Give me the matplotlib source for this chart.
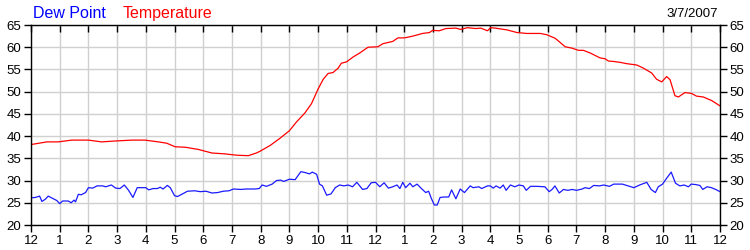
import matplotlib
matplotlib.use("Agg")
import matplotlib.pyplot as plt

plt.rcParams['font.family'] = ['Liberation Sans', 'DejaVu Sans']

# ---- data (hours since midnight) ----
temp_hours = [0.0, 0.55, 0.95, 1.42, 2.0, 2.46, 2.93, 3.51, 3.97, 4.44,
              4.73, 5.02, 5.37, 5.83, 6.30, 6.76, 7.17, 7.57, 7.85, 7.98,
              8.33, 8.67, 9.0, 9.25, 9.54, 9.77, 10.0, 10.18, 10.35, 10.52,
              10.7, 10.81, 10.99, 11.22, 11.45, 11.74, 12.08, 12.26, 12.6, 12.78,
              13.01, 13.3, 13.47, 13.64, 13.88, 13.99, 14.22, 14.45, 14.8, 14.97,
              15.2, 15.49, 15.67, 15.9, 16.01, 16.17, 16.58, 16.93, 17.27, 17.74,
              17.97, 18.26, 18.61, 18.84, 19.07, 19.24, 19.48, 19.82, 20.0, 20.11,
              20.29, 20.52, 20.75, 21.1, 21.33, 21.62, 21.79, 21.97, 22.14, 22.26,
              22.43, 22.55, 22.78, 23.01, 23.18, 23.42, 23.71, 24.0]
temps = [38.1, 38.7, 38.7, 39.1, 39.1, 38.7, 38.9, 39.1, 39.1, 38.7,
         38.4, 37.6, 37.5, 37.0, 36.2, 36.0, 35.7, 35.6, 36.2, 36.6,
         37.9, 39.5, 41.2, 43.2, 45.2, 47.3, 50.6, 52.8, 54.1, 54.3,
         55.3, 56.4, 56.7, 57.8, 58.7, 60.0, 60.1, 60.8, 61.3, 62.1,
         62.1, 62.5, 62.8, 63.1, 63.3, 63.8, 63.7, 64.2, 64.3, 64.0,
         64.4, 64.2, 64.3, 63.7, 64.4, 64.3, 63.9, 63.3, 63.1, 63.1,
         62.8, 62.0, 60.1, 59.8, 59.3, 59.3, 58.7, 57.6, 57.4, 56.9,
         56.8, 56.6, 56.3, 56.0, 55.3, 54.2, 52.8, 52.2, 53.4, 52.7,
         49.1, 48.8, 49.8, 49.6, 49.0, 48.8, 48.0, 46.8]

dew_hours = [0.0, 0.15, 0.3, 0.38, 0.5, 0.6, 0.75, 0.9, 1.0, 1.1,
             1.3, 1.4, 1.5, 1.55, 1.65, 1.75, 1.9, 2.0, 2.15, 2.3,
             2.5, 2.6, 2.8, 2.95, 3.1, 3.25, 3.4, 3.55, 3.7, 4.0,
             4.1, 4.25, 4.4, 4.5, 4.6, 4.75, 4.85, 5.0, 5.1, 5.25,
             5.45, 5.7, 5.9, 6.1, 6.3, 6.5, 6.7, 6.9, 7.05, 7.3,
             7.5, 7.8, 7.95, 8.05, 8.2, 8.4, 8.55, 8.7, 8.8, 9.0,
             9.2, 9.4, 9.55, 9.7, 9.8, 9.95, 10.05, 10.15, 10.3, 10.45,
             10.6, 10.75, 10.9, 11.05, 11.2, 11.35, 11.55, 11.7, 11.85, 12.0,
             12.15, 12.3, 12.45, 12.6, 12.75, 12.85, 12.95, 13.05, 13.2, 13.3,
             13.45, 13.6, 13.75, 13.85, 13.95, 14.05, 14.15, 14.25, 14.4, 14.55,
             14.65, 14.8, 14.95, 15.1, 15.3, 15.4, 15.6, 15.7, 15.9, 16.0,
             16.1, 16.2, 16.34, 16.45, 16.55, 16.7, 16.85, 17.0, 17.15, 17.25,
             17.4, 17.6, 17.9, 18.05, 18.15, 18.25, 18.4, 18.55, 18.7, 18.85,
             19.0, 19.2, 19.3, 19.45, 19.6, 19.8, 19.95, 20.15, 20.3, 20.6,
             20.8, 21.0, 21.2, 21.45, 21.6, 21.75, 21.85, 22.0, 22.15, 22.3,
             22.45, 22.6, 22.75, 22.9, 23.0, 23.15, 23.3, 23.4, 23.55, 23.7,
             23.85, 24.0]
dew = [26.1, 26.2, 26.5, 25.3, 25.8, 26.5, 26.0, 25.5, 24.8, 25.4,
       25.4, 25.0, 25.6, 25.2, 26.9, 26.8, 27.3, 28.4, 28.3, 28.8,
       28.8, 28.6, 29.0, 28.3, 28.2, 29.0, 27.8, 26.2, 28.4, 28.4,
       27.9, 28.2, 28.2, 28.5, 28.1, 28.9, 28.4, 26.6, 26.4, 26.9,
       27.6, 27.7, 27.5, 27.6, 27.2, 27.3, 27.6, 27.7, 28.1, 28.0,
       28.1, 28.1, 28.2, 29.0, 28.7, 29.2, 30.0, 30.1, 29.8, 30.3,
       30.2, 32.0, 31.8, 31.5, 31.9, 31.4, 29.2, 28.8, 26.7, 27.0,
       28.4, 29.0, 28.8, 29.0, 28.6, 29.6, 28.0, 28.2, 29.5, 29.6,
       28.6, 29.5, 28.3, 28.6, 29.0, 28.2, 29.6, 28.4, 29.4, 28.6,
       29.2, 28.2, 27.3, 27.6, 25.9, 24.5, 24.5, 26.2, 26.3, 26.3,
       27.9, 25.9, 28.1, 27.3, 28.8, 28.4, 28.6, 28.2, 28.8, 28.8,
       28.3, 28.8, 28.3, 29.0, 27.8, 29.0, 28.6, 29.0, 28.8, 27.8,
       28.7, 28.7, 28.6, 27.5, 28.0, 28.8, 27.2, 28.0, 27.8, 28.0,
       27.8, 28.1, 28.4, 28.2, 28.9, 28.8, 29.0, 28.7, 29.2, 29.2,
       28.8, 28.4, 29.0, 29.6, 28.0, 27.3, 28.6, 29.2, 30.6, 31.9,
       29.4, 28.8, 29.0, 28.6, 29.2, 29.1, 28.9, 28.0, 28.6, 28.4,
       28.0, 27.5]

x_tick_labels = ['12', '1', '2', '3', '4', '5', '6', '7', '8', '9', '10', '11',
                 '12', '1', '2', '3', '4', '5', '6', '7', '8', '9', '10', '11', '12']
y_ticks = [20, 25, 30, 35, 40, 45, 50, 55, 60, 65]
date_label = '3/7/2007'

# ---- figure ----
fig = plt.figure(figsize=(7.5, 2.5), dpi=100)
ax = fig.add_axes([31 / 750, 25 / 250, 689 / 750, 200 / 250])

ax.plot(dew_hours, dew, color='#1a1aff', linewidth=0.9)
ax.plot(temp_hours, temps, color='#ff0000', linewidth=0.9)

ax.set_xlim(0, 24)
ax.set_ylim(20, 65)
ax.set_xticks(range(25))
ax.set_xticklabels(x_tick_labels)
ax.set_yticks(y_ticks)
ax.grid(True, color='#d0d0d0', linewidth=1.0)
ax.set_axisbelow(True)

for s in ax.spines.values():
    s.set_color('black')
    s.set_linewidth(1.0)

ax.tick_params(axis='x', which='both', direction='out', length=5, width=1,
               labelsize=9.5, pad=2, top=True, labeltop=False)
ax.tick_params(axis='y', which='both', direction='out', length=5, width=1,
               labelsize=9.5, pad=2, right=True, labelright=True)
# top ticks point inward
for t in ax.xaxis.get_major_ticks():
    t.tick2line.set_marker(3)  # TICKDOWN
    t.tick2line.set_markersize(5)

fig.text(33 / 750, 1 - 18 / 250, 'Dew Point', color='#0000ff', fontsize=11.5, ha='left', va='baseline')
fig.text(123 / 750, 1 - 18 / 250, 'Temperature', color='#ff0000', fontsize=11.5, ha='left', va='baseline')
fig.text(718 / 750, 1 - 17 / 250, date_label, color='black', fontsize=9.5, ha='right', va='baseline')

fig.savefig('out.png', dpi=100)
